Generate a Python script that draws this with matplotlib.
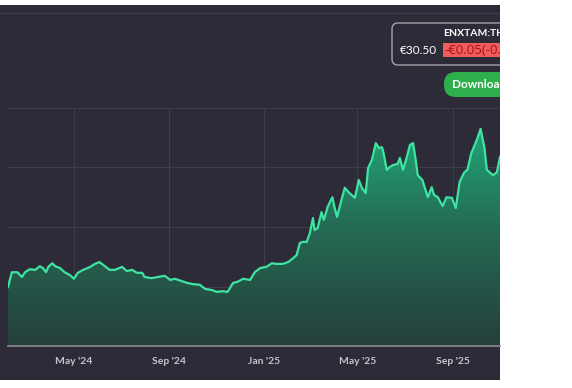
import numpy as np
import pandas as pd
import matplotlib
matplotlib.use('Agg')
import matplotlib.pyplot as plt
import matplotlib.dates as mdates
from matplotlib.colors import LinearSegmentedColormap
from matplotlib.patches import Rectangle, FancyBboxPatch

plt.rcParams['font.family'] = ['Lato', 'DejaVu Sans']

# --------------------------------------------------------------
# Data
dates = [
    '2024-02-06', '2024-02-11', '2024-02-18', '2024-02-24', '2024-02-28', '2024-03-05',
    '2024-03-12', '2024-03-18', '2024-03-22', '2024-03-26', '2024-03-29', '2024-04-03',
    '2024-04-07', '2024-04-13', '2024-04-19', '2024-04-26', '2024-05-01', '2024-05-06',
    '2024-05-13', '2024-05-22', '2024-05-28', '2024-06-03', '2024-06-10', '2024-06-16',
    '2024-06-23', '2024-07-02', '2024-07-08', '2024-07-15', '2024-07-21', '2024-07-28',
    '2024-07-31', '2024-08-09', '2024-08-17', '2024-08-26', '2024-09-02', '2024-09-08',
    '2024-09-17', '2024-09-24', '2024-10-01', '2024-10-10', '2024-10-17', '2024-10-26',
    '2024-11-01', '2024-11-08', '2024-11-15', '2024-11-22', '2024-11-28', '2024-12-05',
    '2024-12-14', '2024-12-20', '2024-12-27', '2025-01-04', '2025-01-11', '2025-01-17',
    '2025-01-25', '2025-02-01', '2025-02-06', '2025-02-12', '2025-02-16', '2025-02-20',
    '2025-02-25', '2025-03-01', '2025-03-05', '2025-03-07', '2025-03-11', '2025-03-16',
    '2025-03-19', '2025-03-24', '2025-03-28', '2025-03-30', '2025-04-02', '2025-04-05',
    '2025-04-10', '2025-04-15', '2025-04-21', '2025-04-28', '2025-05-03', '2025-05-07',
    '2025-05-12', '2025-05-15', '2025-05-20', '2025-05-25', '2025-05-29', '2025-06-02',
    '2025-06-04', '2025-06-08', '2025-06-12', '2025-06-16', '2025-06-22', '2025-06-25',
    '2025-06-29', '2025-07-04', '2025-07-08', '2025-07-12', '2025-07-15', '2025-07-18',
    '2025-07-24', '2025-07-31', '2025-08-05', '2025-08-08', '2025-08-13', '2025-08-19',
    '2025-08-24', '2025-08-31', '2025-09-05', '2025-09-10', '2025-09-16', '2025-09-20',
    '2025-09-25', '2025-10-02', '2025-10-07', '2025-10-12', '2025-10-15', '2025-10-23',
    '2025-10-28', '2025-11-01',
]
prices = [
    9.9, 12.4, 12.4, 11.6, 12.4, 12.9,
    12.8, 13.4, 13.1, 12.4, 13.3, 13.9,
    13.4, 13.1, 12.4, 11.9, 11.3, 12.3,
    12.8, 13.3, 13.8, 14.1, 13.4, 12.8,
    12.8, 13.3, 12.6, 12.8, 12.3, 12.3,
    11.6, 11.4, 11.6, 11.8, 11.1, 11.3,
    10.9, 10.6, 10.4, 10.3, 9.6, 9.4,
    9.1, 9.2, 9.1, 10.6, 10.8, 11.3,
    11.1, 12.4, 13.1, 13.3, 13.9, 13.8,
    13.8, 14.1, 14.6, 15.3, 17.3, 17.5,
    17.5, 19.0, 21.5, 19.5, 19.8, 22.5,
    21.2, 23.4, 24.5, 25.0, 23.2, 21.7,
    24.2, 26.6, 25.7, 24.9, 27.9, 26.6,
    25.7, 29.9, 31.3, 34.1, 33.3, 33.4,
    32.4, 29.6, 30.1, 30.4, 30.6, 31.6,
    29.6, 31.8, 33.8, 34.1, 31.6, 28.7,
    27.9, 25.0, 26.7, 25.4, 25.0, 23.5,
    25.0, 24.9, 23.2, 27.6, 29.2, 29.6,
    32.4, 34.6, 36.5, 33.3, 29.6, 28.7,
    29.2, 31.8,
]
tick_months = [1, 5, 9]
grid_values = [10, 20, 30, 40]

dates = pd.to_datetime(dates)
W, H = 572, 388

# --------------------------------------------------------------
# Figure + dark panel
fig = plt.figure(figsize=(W / 100, H / 100), dpi=100, facecolor='white')

bg = fig.add_axes([0, 0, 500 / W, 1], zorder=0)
bg.set_xlim(0, 500)
bg.set_ylim(H, 0)
bg.axis('off')
bg.add_patch(Rectangle((0, 5), 500, 375, color='#2c2b37', lw=0))
bg.plot([0, 500], [13, 13], color='#3b3a47', lw=1)

# --------------------------------------------------------------
# Price chart
ax = fig.add_axes([8 / W, 1 - 346 / H, 492 / W, (346 - 108) / H], zorder=1)
ax.patch.set_alpha(0)

xmin, xmax = dates[0], dates[-1]
fill = ax.fill_between(dates, prices, 0, color='none', lw=0)
grad = np.linspace(0, 1, 256).reshape(-1, 1)
cmap = LinearSegmentedColormap.from_list('g', ['#243f3a', '#256b55', '#1fb27d'])
im = ax.imshow(grad, extent=[mdates.date2num(xmin), mdates.date2num(xmax), 0, 40],
               origin='lower', aspect='auto', cmap=cmap, zorder=1)
im.set_clip_path(fill.get_paths()[0], transform=ax.transData)
ax.plot(dates, prices, color='#3fe3a2', lw=1.6, zorder=3, solid_joinstyle='round')

ax.set_xlim(xmin, xmax)
ax.set_ylim(0, 40)
ax.set_yticks(grid_values)
ax.xaxis.set_major_locator(mdates.MonthLocator(bymonth=tick_months))
ax.xaxis.set_major_formatter(mdates.DateFormatter("%b '%y"))
ax.grid(True, color='#3e3d4a', lw=0.8, zorder=0)
ax.set_axisbelow(True)
ax.tick_params(axis='x', length=0, pad=8, labelsize=7.5, labelcolor='#c4c4cc')
ax.tick_params(axis='y', length=0, labelleft=False)
for lbl in ax.get_xticklabels():
    lbl.set_fontweight('bold')
for side in ['top', 'right', 'left']:
    ax.spines[side].set_visible(False)
ax.spines['bottom'].set_color('#8e8e96')
ax.spines['bottom'].set_linewidth(1.2)

# --------------------------------------------------------------
# Ticker box + download button (cut off at the panel edge)
ov = fig.add_axes([0, 0, 500 / W, 1], zorder=2)
ov.set_xlim(0, 500)
ov.set_ylim(H, 0)
ov.axis('off')
ov.patch.set_alpha(0)
ov.add_patch(FancyBboxPatch((392, 23), 160, 42, boxstyle='round,pad=0,rounding_size=6',
                            fc='#2c2b37', ec='#a3a3ab', lw=1))
ov.text(443, 34, 'ENXTAM:THEON', color='white', fontsize=7.5, fontweight='bold',
        va='center', ha='left', clip_on=True)
ov.text(400, 50, '€30.50', color='white', fontsize=8.5, va='center', ha='left', clip_on=True)
ov.add_patch(Rectangle((443, 43), 80, 14, color='#f25b5b', lw=0))
ov.text(444, 50, '-€0.05(-0.16%)', color='#a5121c', fontsize=9.5, family='Open Sans',
        va='center', ha='left', clip_on=True)
ov.add_patch(FancyBboxPatch((444, 72), 90, 25, boxstyle='round,pad=0,rounding_size=12',
                            fc='#2daf4c', ec='none'))
ov.text(452, 84.5, 'Download', color='white', fontsize=8.5, fontweight='bold',
        va='center', ha='left', clip_on=True)

fig.savefig('out.png', dpi=100, facecolor='white')
